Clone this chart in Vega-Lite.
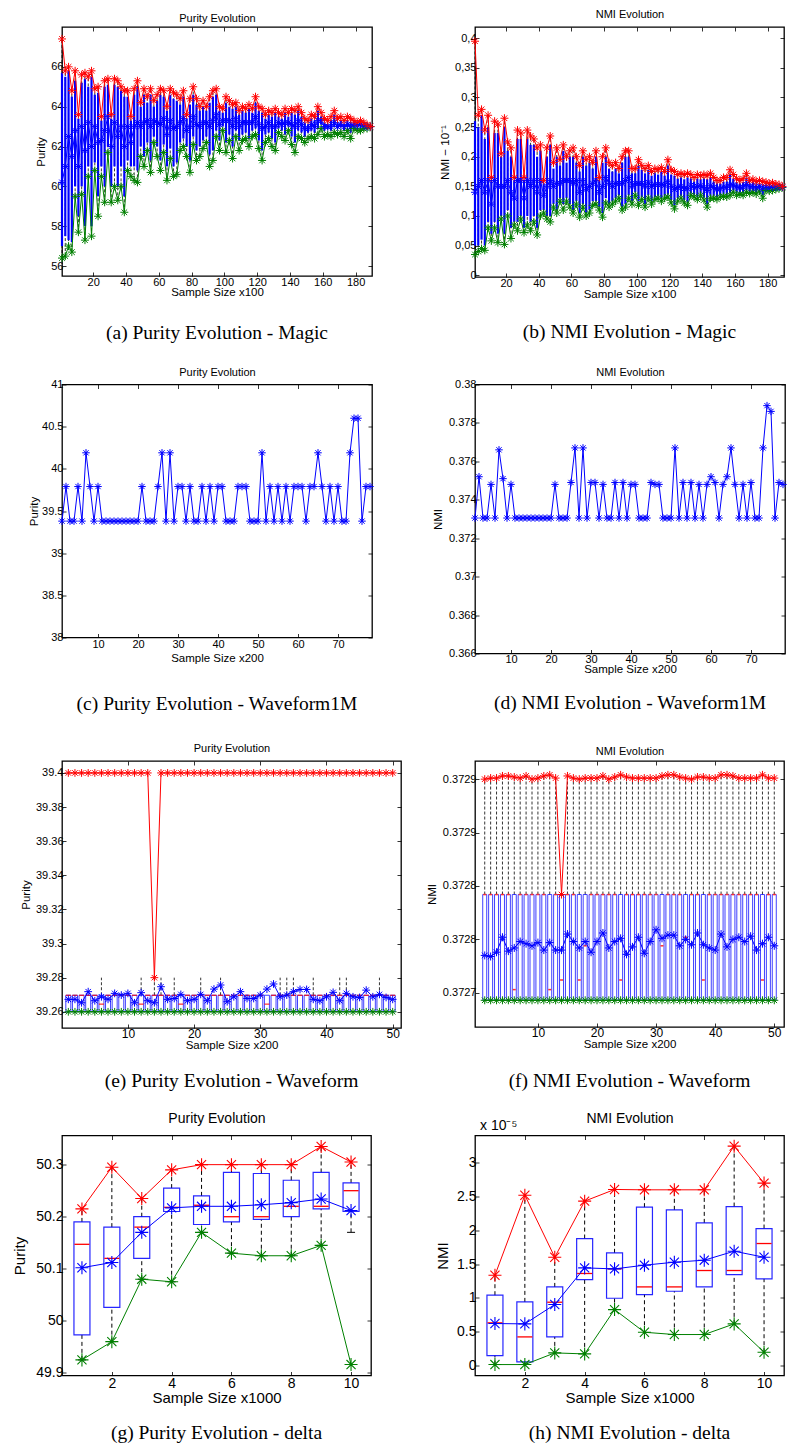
{
"$schema":"https://vega.github.io/schema/vega-lite/v6.json",
"background":"white",
"padding":{"left":12,"top":7,"right":2,"bottom":2},
"config":{
"view":{"stroke":"black","strokeWidth":1.3},
"axis":{"domain":false,"grid":false,"tickSize":-4,"tickColor":"black","tickWidth":0.8,"labelColor":"black","titleColor":"black","labelFont":"Liberation Sans","titleFont":"Liberation Sans","titleFontWeight":"normal","labelFontSize":11,"titleFontSize":11.5,"labelPadding":3,"labelFlush":false,"labelOverlap":false},
"title":{"orient":"bottom","font":"Liberation Serif","fontSize":19.5,"fontWeight":"normal","color":"black"}
},
"datasets":{
"a":[
{"x":1,"r":67.4,"g":56.4,"m":60.2,"l":57.0,"h":65.7},
{"x":3,"r":65.8,"g":56.5,"m":61.0,"l":57.5,"h":65.5},
{"x":5,"r":66.0,"g":57.0,"m":62.5,"l":57.3,"h":65.8},
{"x":7,"r":64.8,"g":56.7,"m":61.5,"l":57.2,"h":64.5},
{"x":9,"r":65.8,"g":59.5,"m":62.8,"l":60.0,"h":65.3},
{"x":11,"r":63.6,"g":57.7,"m":61.0,"l":58.5,"h":63.4},
{"x":13,"r":65.6,"g":59.6,"m":63.0,"l":60.0,"h":65.2},
{"x":15,"r":65.7,"g":57.3,"m":61.8,"l":58.0,"h":65.4},
{"x":17,"r":65.5,"g":60.5,"m":63.2,"l":61.0,"h":65.0},
{"x":19,"r":65.8,"g":57.5,"m":62.0,"l":58.0,"h":65.5},
{"x":21,"r":64.9,"g":60.8,"m":63.0,"l":61.2,"h":64.6},
{"x":23,"r":65.0,"g":58.5,"m":62.2,"l":59.5,"h":64.7},
{"x":25,"r":63.5,"g":60.5,"m":62.3,"l":61.0,"h":63.3},
{"x":27,"r":65.3,"g":59.2,"m":62.8,"l":60.0,"h":65.0},
{"x":29,"r":65.4,"g":61.7,"m":63.5,"l":62.0,"h":65.1},
{"x":31,"r":63.6,"g":59.2,"m":62.0,"l":60.0,"h":63.4},
{"x":33,"r":65.4,"g":60.0,"m":63.2,"l":61.0,"h":65.1},
{"x":35,"r":65.3,"g":59.3,"m":62.5,"l":60.0,"h":65.0},
{"x":37,"r":65.0,"g":60.0,"m":63.0,"l":61.0,"h":64.8},
{"x":39,"r":64.8,"g":58.7,"m":62.0,"l":59.5,"h":64.5},
{"x":41,"r":64.8,"g":60.8,"m":63.0,"l":61.3,"h":64.5},
{"x":43,"r":63.5,"g":60.5,"m":62.2,"l":61.0,"h":63.3},
{"x":45,"r":64.9,"g":60.3,"m":63.0,"l":61.0,"h":64.6},
{"x":47,"r":65.3,"g":60.2,"m":63.2,"l":60.8,"h":65.0},
{"x":49,"r":64.2,"g":61.5,"m":63.0,"l":62.0,"h":64.0},
{"x":51,"r":64.9,"g":61.0,"m":63.2,"l":61.5,"h":64.6},
{"x":53,"r":64.5,"g":61.8,"m":63.3,"l":62.2,"h":64.2},
{"x":55,"r":64.9,"g":60.7,"m":63.0,"l":61.3,"h":64.6},
{"x":57,"r":64.3,"g":62.2,"m":63.3,"l":62.5,"h":64.0},
{"x":59,"r":64.6,"g":61.5,"m":63.2,"l":62.0,"h":64.3},
{"x":61,"r":64.9,"g":60.8,"m":63.1,"l":61.3,"h":64.6},
{"x":63,"r":64.8,"g":61.7,"m":63.4,"l":62.1,"h":64.5},
{"x":65,"r":64.0,"g":60.3,"m":62.6,"l":61.0,"h":63.8},
{"x":67,"r":64.9,"g":61.4,"m":63.3,"l":61.9,"h":64.6},
{"x":69,"r":64.7,"g":60.5,"m":62.9,"l":61.0,"h":64.4},
{"x":71,"r":64.6,"g":60.6,"m":63.0,"l":61.2,"h":64.3},
{"x":73,"r":64.4,"g":61.8,"m":63.2,"l":62.2,"h":64.1},
{"x":75,"r":64.8,"g":62.0,"m":63.4,"l":62.4,"h":64.5},
{"x":77,"r":63.6,"g":61.5,"m":62.8,"l":62.0,"h":63.4},
{"x":79,"r":64.4,"g":60.7,"m":63.0,"l":61.3,"h":64.1},
{"x":81,"r":65.0,"g":62.1,"m":63.5,"l":62.5,"h":64.6},
{"x":83,"r":64.4,"g":61.3,"m":63.1,"l":61.8,"h":64.1},
{"x":85,"r":64.0,"g":61.5,"m":63.0,"l":62.0,"h":63.8},
{"x":87,"r":64.3,"g":61.9,"m":63.2,"l":62.3,"h":64.0},
{"x":89,"r":64.0,"g":62.2,"m":63.2,"l":62.5,"h":63.8},
{"x":91,"r":64.5,"g":61.0,"m":63.0,"l":61.6,"h":64.2},
{"x":93,"r":64.8,"g":61.3,"m":63.3,"l":61.8,"h":64.5},
{"x":95,"r":64.9,"g":62.5,"m":63.6,"l":62.8,"h":64.6},
{"x":97,"r":64.0,"g":61.8,"m":63.1,"l":62.3,"h":63.8},
{"x":99,"r":63.9,"g":62.8,"m":63.3,"l":63.0,"h":63.7},
{"x":101,"r":64.5,"g":61.7,"m":63.3,"l":62.2,"h":64.2},
{"x":103,"r":64.3,"g":62.3,"m":63.3,"l":62.6,"h":64.0},
{"x":105,"r":64.1,"g":61.4,"m":63.0,"l":62.0,"h":63.9},
{"x":107,"r":64.2,"g":62.5,"m":63.4,"l":62.8,"h":64.0},
{"x":109,"r":63.8,"g":61.8,"m":63.0,"l":62.3,"h":63.6},
{"x":111,"r":64.0,"g":62.3,"m":63.2,"l":62.6,"h":63.8},
{"x":113,"r":63.9,"g":62.4,"m":63.2,"l":62.7,"h":63.7},
{"x":115,"r":64.1,"g":62.0,"m":63.2,"l":62.4,"h":63.9},
{"x":117,"r":63.9,"g":62.5,"m":63.2,"l":62.8,"h":63.7},
{"x":119,"r":64.5,"g":62.6,"m":63.5,"l":62.9,"h":64.2},
{"x":121,"r":64.0,"g":61.9,"m":63.1,"l":62.3,"h":63.8},
{"x":123,"r":63.9,"g":61.3,"m":62.9,"l":61.8,"h":63.7},
{"x":125,"r":63.6,"g":62.2,"m":63.0,"l":62.6,"h":63.4},
{"x":127,"r":63.8,"g":62.4,"m":63.2,"l":62.7,"h":63.6},
{"x":129,"r":63.7,"g":62.0,"m":63.0,"l":62.4,"h":63.5},
{"x":131,"r":63.9,"g":61.8,"m":63.0,"l":62.2,"h":63.7},
{"x":133,"r":63.7,"g":62.7,"m":63.2,"l":62.9,"h":63.5},
{"x":135,"r":63.6,"g":62.5,"m":63.1,"l":62.8,"h":63.4},
{"x":137,"r":63.9,"g":62.3,"m":63.2,"l":62.6,"h":63.7},
{"x":139,"r":63.7,"g":62.8,"m":63.2,"l":63.0,"h":63.5},
{"x":141,"r":63.9,"g":62.1,"m":63.1,"l":62.5,"h":63.7},
{"x":143,"r":63.8,"g":61.7,"m":63.0,"l":62.2,"h":63.6},
{"x":145,"r":64.0,"g":62.5,"m":63.3,"l":62.8,"h":63.8},
{"x":147,"r":63.7,"g":62.4,"m":63.1,"l":62.7,"h":63.5},
{"x":149,"r":63.4,"g":62.2,"m":62.9,"l":62.5,"h":63.2},
{"x":151,"r":63.3,"g":62.4,"m":62.9,"l":62.7,"h":63.1},
{"x":153,"r":63.6,"g":62.5,"m":63.1,"l":62.8,"h":63.4},
{"x":155,"r":63.5,"g":62.4,"m":63.0,"l":62.7,"h":63.3},
{"x":157,"r":64.0,"g":62.6,"m":63.3,"l":62.9,"h":63.8},
{"x":159,"r":63.7,"g":62.9,"m":63.3,"l":63.1,"h":63.5},
{"x":161,"r":63.4,"g":62.5,"m":63.0,"l":62.8,"h":63.2},
{"x":163,"r":63.3,"g":62.6,"m":63.0,"l":62.9,"h":63.1},
{"x":165,"r":63.5,"g":62.5,"m":63.0,"l":62.8,"h":63.3},
{"x":167,"r":63.8,"g":62.7,"m":63.2,"l":63.0,"h":63.6},
{"x":169,"r":63.4,"g":62.6,"m":63.0,"l":62.9,"h":63.2},
{"x":171,"r":63.5,"g":62.7,"m":63.1,"l":63.0,"h":63.3},
{"x":173,"r":63.3,"g":62.5,"m":63.0,"l":62.8,"h":63.1},
{"x":175,"r":63.5,"g":62.8,"m":63.1,"l":63.0,"h":63.3},
{"x":177,"r":63.4,"g":62.4,"m":63.0,"l":62.7,"h":63.2},
{"x":179,"r":63.3,"g":62.9,"m":63.1,"l":63.0,"h":63.2},
{"x":181,"r":63.2,"g":62.8,"m":63.05,"l":63.0,"h":63.1},
{"x":183,"r":63.3,"g":62.8,"m":63.1,"l":63.0,"h":63.2},
{"x":185,"r":63.2,"g":62.9,"m":63.05,"l":63.0,"h":63.1},
{"x":187,"r":63.1,"g":62.9,"m":63.0,"l":62.95,"h":63.05},
{"x":189,"r":63.0,"g":63.0,"m":63.0,"l":63.0,"h":63.0}
],
"b":[
{"x":1,"r":0.395,"g":0.035,"m":0.14,"l":0.05,"h":0.26},
{"x":3,"r":0.27,"g":0.04,"m":0.15,"l":0.05,"h":0.25},
{"x":5,"r":0.28,"g":0.045,"m":0.16,"l":0.06,"h":0.27},
{"x":7,"r":0.245,"g":0.042,"m":0.14,"l":0.05,"h":0.23},
{"x":9,"r":0.27,"g":0.08,"m":0.16,"l":0.09,"h":0.25},
{"x":11,"r":0.165,"g":0.058,"m":0.12,"l":0.07,"h":0.16},
{"x":13,"r":0.26,"g":0.08,"m":0.16,"l":0.09,"h":0.24},
{"x":15,"r":0.255,"g":0.055,"m":0.15,"l":0.07,"h":0.24},
{"x":17,"r":0.205,"g":0.095,"m":0.15,"l":0.10,"h":0.20},
{"x":19,"r":0.265,"g":0.052,"m":0.15,"l":0.07,"h":0.25},
{"x":21,"r":0.225,"g":0.1,"m":0.16,"l":0.11,"h":0.21},
{"x":23,"r":0.215,"g":0.062,"m":0.14,"l":0.08,"h":0.20},
{"x":25,"r":0.165,"g":0.085,"m":0.13,"l":0.09,"h":0.16},
{"x":27,"r":0.245,"g":0.075,"m":0.16,"l":0.09,"h":0.23},
{"x":29,"r":0.24,"g":0.095,"m":0.16,"l":0.10,"h":0.23},
{"x":31,"r":0.165,"g":0.072,"m":0.13,"l":0.08,"h":0.16},
{"x":33,"r":0.245,"g":0.085,"m":0.16,"l":0.10,"h":0.23},
{"x":35,"r":0.235,"g":0.075,"m":0.15,"l":0.09,"h":0.22},
{"x":37,"r":0.23,"g":0.09,"m":0.16,"l":0.10,"h":0.22},
{"x":39,"r":0.215,"g":0.068,"m":0.14,"l":0.08,"h":0.20},
{"x":41,"r":0.22,"g":0.1,"m":0.16,"l":0.11,"h":0.21},
{"x":43,"r":0.16,"g":0.105,"m":0.135,"l":0.11,"h":0.155},
{"x":45,"r":0.215,"g":0.095,"m":0.15,"l":0.10,"h":0.20},
{"x":47,"r":0.235,"g":0.09,"m":0.16,"l":0.10,"h":0.22},
{"x":49,"r":0.19,"g":0.115,"m":0.15,"l":0.12,"h":0.18},
{"x":51,"r":0.215,"g":0.105,"m":0.155,"l":0.11,"h":0.20},
{"x":53,"r":0.195,"g":0.125,"m":0.155,"l":0.13,"h":0.185},
{"x":55,"r":0.22,"g":0.11,"m":0.16,"l":0.12,"h":0.21},
{"x":57,"r":0.2,"g":0.125,"m":0.16,"l":0.13,"h":0.19},
{"x":59,"r":0.21,"g":0.115,"m":0.16,"l":0.12,"h":0.20},
{"x":61,"r":0.215,"g":0.105,"m":0.155,"l":0.11,"h":0.20},
{"x":63,"r":0.2,"g":0.12,"m":0.16,"l":0.125,"h":0.19},
{"x":65,"r":0.185,"g":0.098,"m":0.14,"l":0.105,"h":0.175},
{"x":67,"r":0.21,"g":0.115,"m":0.16,"l":0.12,"h":0.20},
{"x":69,"r":0.195,"g":0.1,"m":0.145,"l":0.105,"h":0.185},
{"x":71,"r":0.2,"g":0.105,"m":0.15,"l":0.11,"h":0.19},
{"x":73,"r":0.19,"g":0.118,"m":0.155,"l":0.125,"h":0.18},
{"x":75,"r":0.21,"g":0.12,"m":0.16,"l":0.125,"h":0.20},
{"x":77,"r":0.165,"g":0.11,"m":0.14,"l":0.115,"h":0.16},
{"x":79,"r":0.2,"g":0.098,"m":0.15,"l":0.105,"h":0.19},
{"x":81,"r":0.215,"g":0.122,"m":0.165,"l":0.13,"h":0.20},
{"x":83,"r":0.19,"g":0.115,"m":0.155,"l":0.12,"h":0.18},
{"x":85,"r":0.185,"g":0.12,"m":0.15,"l":0.125,"h":0.175},
{"x":87,"r":0.19,"g":0.125,"m":0.155,"l":0.13,"h":0.18},
{"x":89,"r":0.18,"g":0.13,"m":0.155,"l":0.135,"h":0.172},
{"x":91,"r":0.2,"g":0.11,"m":0.155,"l":0.115,"h":0.19},
{"x":93,"r":0.21,"g":0.115,"m":0.16,"l":0.12,"h":0.20},
{"x":95,"r":0.21,"g":0.13,"m":0.165,"l":0.135,"h":0.20},
{"x":97,"r":0.18,"g":0.12,"m":0.15,"l":0.125,"h":0.172},
{"x":99,"r":0.18,"g":0.135,"m":0.155,"l":0.14,"h":0.172},
{"x":101,"r":0.195,"g":0.118,"m":0.155,"l":0.125,"h":0.185},
{"x":103,"r":0.185,"g":0.128,"m":0.155,"l":0.132,"h":0.178},
{"x":105,"r":0.18,"g":0.115,"m":0.15,"l":0.12,"h":0.172},
{"x":107,"r":0.185,"g":0.13,"m":0.157,"l":0.135,"h":0.178},
{"x":109,"r":0.175,"g":0.12,"m":0.15,"l":0.125,"h":0.168},
{"x":111,"r":0.18,"g":0.128,"m":0.153,"l":0.132,"h":0.172},
{"x":113,"r":0.178,"g":0.13,"m":0.153,"l":0.134,"h":0.17},
{"x":115,"r":0.182,"g":0.125,"m":0.153,"l":0.13,"h":0.175},
{"x":117,"r":0.175,"g":0.13,"m":0.152,"l":0.134,"h":0.168},
{"x":119,"r":0.195,"g":0.132,"m":0.158,"l":0.136,"h":0.185},
{"x":121,"r":0.178,"g":0.122,"m":0.15,"l":0.127,"h":0.17},
{"x":123,"r":0.175,"g":0.112,"m":0.145,"l":0.118,"h":0.168},
{"x":125,"r":0.17,"g":0.125,"m":0.148,"l":0.13,"h":0.163},
{"x":127,"r":0.172,"g":0.13,"m":0.15,"l":0.134,"h":0.165},
{"x":129,"r":0.17,"g":0.122,"m":0.146,"l":0.127,"h":0.162},
{"x":131,"r":0.172,"g":0.118,"m":0.146,"l":0.123,"h":0.165},
{"x":133,"r":0.17,"g":0.135,"m":0.152,"l":0.138,"h":0.163},
{"x":135,"r":0.165,"g":0.132,"m":0.148,"l":0.136,"h":0.158},
{"x":137,"r":0.17,"g":0.128,"m":0.15,"l":0.132,"h":0.163},
{"x":139,"r":0.168,"g":0.135,"m":0.151,"l":0.138,"h":0.162},
{"x":141,"r":0.17,"g":0.127,"m":0.148,"l":0.131,"h":0.163},
{"x":143,"r":0.168,"g":0.115,"m":0.143,"l":0.12,"h":0.162},
{"x":145,"r":0.172,"g":0.13,"m":0.151,"l":0.134,"h":0.165},
{"x":147,"r":0.165,"g":0.13,"m":0.148,"l":0.134,"h":0.158},
{"x":149,"r":0.16,"g":0.128,"m":0.145,"l":0.132,"h":0.155},
{"x":151,"r":0.16,"g":0.132,"m":0.146,"l":0.135,"h":0.155},
{"x":153,"r":0.165,"g":0.133,"m":0.149,"l":0.137,"h":0.158},
{"x":155,"r":0.165,"g":0.132,"m":0.148,"l":0.136,"h":0.158},
{"x":157,"r":0.178,"g":0.135,"m":0.153,"l":0.139,"h":0.17},
{"x":159,"r":0.17,"g":0.14,"m":0.152,"l":0.143,"h":0.163},
{"x":161,"r":0.163,"g":0.135,"m":0.149,"l":0.139,"h":0.157},
{"x":163,"r":0.16,"g":0.137,"m":0.148,"l":0.14,"h":0.155},
{"x":165,"r":0.163,"g":0.135,"m":0.149,"l":0.139,"h":0.157},
{"x":167,"r":0.172,"g":0.14,"m":0.153,"l":0.143,"h":0.165},
{"x":169,"r":0.16,"g":0.138,"m":0.149,"l":0.141,"h":0.155},
{"x":171,"r":0.162,"g":0.14,"m":0.15,"l":0.143,"h":0.157},
{"x":173,"r":0.158,"g":0.137,"m":0.147,"l":0.14,"h":0.153},
{"x":175,"r":0.16,"g":0.142,"m":0.15,"l":0.145,"h":0.155},
{"x":177,"r":0.158,"g":0.13,"m":0.145,"l":0.135,"h":0.153},
{"x":179,"r":0.157,"g":0.143,"m":0.149,"l":0.146,"h":0.152},
{"x":181,"r":0.155,"g":0.142,"m":0.148,"l":0.145,"h":0.151},
{"x":183,"r":0.156,"g":0.143,"m":0.149,"l":0.146,"h":0.152},
{"x":185,"r":0.154,"g":0.145,"m":0.149,"l":0.147,"h":0.151},
{"x":187,"r":0.153,"g":0.146,"m":0.149,"l":0.148,"h":0.151},
{"x":189,"r":0.15,"g":0.148,"m":0.149,"l":0.149,"h":0.15}
],
"cd":[
{"x":1,"p":39.38,"n":0.37305},{"x":2,"p":39.79,"n":0.3752},{"x":3,"p":39.38,"n":0.37305},{"x":4,"p":39.38,"n":0.37305},{"x":5,"p":39.79,"n":0.3748},
{"x":6,"p":39.38,"n":0.37305},{"x":7,"p":40.19,"n":0.3766},{"x":8,"p":39.79,"n":0.3751},{"x":9,"p":39.38,"n":0.37305},{"x":10,"p":39.79,"n":0.3748},
{"x":11,"p":39.38,"n":0.37305},{"x":12,"p":39.38,"n":0.37305},{"x":13,"p":39.38,"n":0.37305},{"x":14,"p":39.38,"n":0.37305},{"x":15,"p":39.38,"n":0.37305},
{"x":16,"p":39.38,"n":0.37305},{"x":17,"p":39.38,"n":0.37305},{"x":18,"p":39.38,"n":0.37305},{"x":19,"p":39.38,"n":0.37305},{"x":20,"p":39.38,"n":0.37305},
{"x":21,"p":39.79,"n":0.3748},{"x":22,"p":39.38,"n":0.37305},{"x":23,"p":39.38,"n":0.37305},{"x":24,"p":39.38,"n":0.37305},{"x":25,"p":39.79,"n":0.3749},
{"x":26,"p":40.19,"n":0.3767},{"x":27,"p":39.38,"n":0.37305},{"x":28,"p":40.19,"n":0.3767},{"x":29,"p":39.38,"n":0.37305},{"x":30,"p":39.79,"n":0.3749},
{"x":31,"p":39.79,"n":0.3749},{"x":32,"p":39.38,"n":0.37305},{"x":33,"p":39.79,"n":0.3748},{"x":34,"p":39.38,"n":0.37305},{"x":35,"p":39.38,"n":0.37305},
{"x":36,"p":39.79,"n":0.3749},{"x":37,"p":39.38,"n":0.37305},{"x":38,"p":39.79,"n":0.3749},{"x":39,"p":39.38,"n":0.37305},{"x":40,"p":39.79,"n":0.3748},
{"x":41,"p":39.79,"n":0.3748},{"x":42,"p":39.38,"n":0.37305},{"x":43,"p":39.38,"n":0.37305},{"x":44,"p":39.38,"n":0.37305},{"x":45,"p":39.79,"n":0.3749},
{"x":46,"p":39.79,"n":0.3748},{"x":47,"p":39.79,"n":0.3748},{"x":48,"p":39.38,"n":0.37305},{"x":49,"p":39.38,"n":0.37305},{"x":50,"p":39.38,"n":0.37305},
{"x":51,"p":40.19,"n":0.3767},{"x":52,"p":39.38,"n":0.37305},{"x":53,"p":39.79,"n":0.3749},{"x":54,"p":39.38,"n":0.37305},{"x":55,"p":39.79,"n":0.3749},
{"x":56,"p":39.38,"n":0.37305},{"x":57,"p":39.79,"n":0.3748},{"x":58,"p":39.38,"n":0.37305},{"x":59,"p":39.79,"n":0.3748},{"x":60,"p":39.79,"n":0.3752},
{"x":61,"p":39.79,"n":0.3749},{"x":62,"p":39.38,"n":0.37305},{"x":63,"p":39.79,"n":0.3748},{"x":64,"p":39.79,"n":0.3752},{"x":65,"p":40.19,"n":0.3767},
{"x":66,"p":39.79,"n":0.3748},{"x":67,"p":39.38,"n":0.37305},{"x":68,"p":39.79,"n":0.3748},{"x":69,"p":39.38,"n":0.37305},{"x":70,"p":39.79,"n":0.3749},
{"x":71,"p":39.38,"n":0.37305},{"x":72,"p":39.38,"n":0.37305},{"x":73,"p":40.19,"n":0.3767},{"x":74,"p":40.6,"n":0.3789},{"x":75,"p":40.6,"n":0.3786},
{"x":76,"p":39.38,"n":0.37305},{"x":77,"p":39.79,"n":0.3749},{"x":78,"p":39.79,"n":0.3748}
],
"e":[
{"x":1,"r":39.4,"g":39.26,"m":39.2673,"h":39.2697,"md":39.2697,"wh":39.2697},
{"x":2,"r":39.4,"g":39.26,"m":39.2673,"h":39.2697,"md":39.2697,"wh":39.2697},
{"x":3,"r":39.4,"g":39.26,"m":39.2653,"h":39.2697,"md":39.2697,"wh":39.2697},
{"x":4,"r":39.4,"g":39.26,"m":39.2718,"h":39.2697,"md":39.2697,"wh":39.2697},
{"x":5,"r":39.4,"g":39.26,"m":39.2665,"h":39.2697,"md":39.2697,"wh":39.2697},
{"x":6,"r":39.4,"g":39.26,"m":39.2688,"h":39.2697,"md":39.2645,"wh":39.28},
{"x":7,"r":39.4,"g":39.26,"m":39.2673,"h":39.2697,"md":39.2697,"wh":39.2697},
{"x":8,"r":39.4,"g":39.26,"m":39.2708,"h":39.2697,"md":39.2697,"wh":39.2697},
{"x":9,"r":39.4,"g":39.26,"m":39.2698,"h":39.2697,"md":39.2697,"wh":39.2697},
{"x":10,"r":39.4,"g":39.26,"m":39.2708,"h":39.2697,"md":39.2697,"wh":39.2697},
{"x":11,"r":39.4,"g":39.26,"m":39.2653,"h":39.2697,"md":39.2697,"wh":39.2697},
{"x":12,"r":39.4,"g":39.26,"m":39.2712,"h":39.2697,"md":39.2645,"wh":39.28},
{"x":13,"r":39.4,"g":39.26,"m":39.2665,"h":39.2697,"md":39.2697,"wh":39.2697},
{"x":14,"r":39.28,"g":39.26,"m":39.2653,"h":39.2697,"md":39.2697,"wh":39.28},
{"x":15,"r":39.4,"g":39.26,"m":39.2747,"h":39.2697,"md":39.2697,"wh":39.28},
{"x":16,"r":39.4,"g":39.26,"m":39.2673,"h":39.2697,"md":39.2697,"wh":39.2697},
{"x":17,"r":39.4,"g":39.26,"m":39.2678,"h":39.2697,"md":39.2697,"wh":39.28},
{"x":18,"r":39.4,"g":39.26,"m":39.2702,"h":39.2697,"md":39.2645,"wh":39.2697},
{"x":19,"r":39.4,"g":39.26,"m":39.2665,"h":39.2697,"md":39.2697,"wh":39.2697},
{"x":20,"r":39.4,"g":39.26,"m":39.2673,"h":39.2697,"md":39.2697,"wh":39.2697},
{"x":21,"r":39.4,"g":39.26,"m":39.2702,"h":39.2697,"md":39.2697,"wh":39.28},
{"x":22,"r":39.4,"g":39.26,"m":39.2665,"h":39.2697,"md":39.2697,"wh":39.2697},
{"x":23,"r":39.4,"g":39.26,"m":39.2733,"h":39.2697,"md":39.2697,"wh":39.2697},
{"x":24,"r":39.4,"g":39.26,"m":39.2757,"h":39.2697,"md":39.2697,"wh":39.28},
{"x":25,"r":39.4,"g":39.26,"m":39.2659,"h":39.2697,"md":39.2697,"wh":39.2697},
{"x":26,"r":39.4,"g":39.26,"m":39.2688,"h":39.2697,"md":39.2697,"wh":39.2697},
{"x":27,"r":39.4,"g":39.26,"m":39.2718,"h":39.2697,"md":39.2697,"wh":39.2697},
{"x":28,"r":39.4,"g":39.26,"m":39.2678,"h":39.2697,"md":39.2697,"wh":39.2697},
{"x":29,"r":39.4,"g":39.26,"m":39.2678,"h":39.2697,"md":39.2697,"wh":39.2697},
{"x":30,"r":39.4,"g":39.26,"m":39.2698,"h":39.2697,"md":39.2697,"wh":39.2697},
{"x":31,"r":39.4,"g":39.26,"m":39.2733,"h":39.2697,"md":39.2645,"wh":39.2697},
{"x":32,"r":39.4,"g":39.26,"m":39.2763,"h":39.2697,"md":39.2697,"wh":39.2697},
{"x":33,"r":39.4,"g":39.26,"m":39.2688,"h":39.2697,"md":39.2697,"wh":39.28},
{"x":34,"r":39.4,"g":39.26,"m":39.2698,"h":39.2697,"md":39.2697,"wh":39.28},
{"x":35,"r":39.4,"g":39.26,"m":39.2718,"h":39.2697,"md":39.2697,"wh":39.28},
{"x":36,"r":39.4,"g":39.26,"m":39.2731,"h":39.2697,"md":39.2697,"wh":39.2697},
{"x":37,"r":39.4,"g":39.26,"m":39.2731,"h":39.2697,"md":39.2697,"wh":39.2697},
{"x":38,"r":39.4,"g":39.26,"m":39.2673,"h":39.2697,"md":39.2697,"wh":39.28},
{"x":39,"r":39.4,"g":39.26,"m":39.2665,"h":39.2697,"md":39.2697,"wh":39.2697},
{"x":40,"r":39.4,"g":39.26,"m":39.2688,"h":39.2697,"md":39.2697,"wh":39.2697},
{"x":41,"r":39.4,"g":39.26,"m":39.2714,"h":39.2697,"md":39.2697,"wh":39.2697},
{"x":42,"r":39.4,"g":39.26,"m":39.2665,"h":39.2697,"md":39.2697,"wh":39.28},
{"x":43,"r":39.4,"g":39.26,"m":39.2708,"h":39.2697,"md":39.2697,"wh":39.28},
{"x":44,"r":39.4,"g":39.26,"m":39.2688,"h":39.2697,"md":39.2697,"wh":39.2697},
{"x":45,"r":39.4,"g":39.26,"m":39.2684,"h":39.2697,"md":39.2697,"wh":39.2697},
{"x":46,"r":39.4,"g":39.26,"m":39.2727,"h":39.2697,"md":39.2697,"wh":39.2697},
{"x":47,"r":39.4,"g":39.26,"m":39.2688,"h":39.2697,"md":39.2697,"wh":39.2697},
{"x":48,"r":39.4,"g":39.26,"m":39.2702,"h":39.2697,"md":39.2697,"wh":39.28},
{"x":49,"r":39.4,"g":39.26,"m":39.2684,"h":39.2697,"md":39.2697,"wh":39.2697},
{"x":50,"r":39.4,"g":39.26,"m":39.2673,"h":39.2697,"md":39.2697,"wh":39.2697}
],
"f":[
{"x":1,"r":0.3729,"g":0.372693,"m":0.372735,"h":0.372792,"md":0.372792},
{"x":2,"r":0.372901,"g":0.372693,"m":0.372734,"h":0.372792,"md":0.372792},
{"x":3,"r":0.372901,"g":0.372693,"m":0.372738,"h":0.372792,"md":0.372792},
{"x":4,"r":0.372903,"g":0.372693,"m":0.372752,"h":0.372792,"md":0.372792},
{"x":5,"r":0.372903,"g":0.372693,"m":0.372739,"h":0.372792,"md":0.372792},
{"x":6,"r":0.372902,"g":0.372693,"m":0.372742,"h":0.372792,"md":0.372703},
{"x":7,"r":0.372901,"g":0.372693,"m":0.372748,"h":0.372792,"md":0.372792},
{"x":8,"r":0.372903,"g":0.372693,"m":0.372746,"h":0.372792,"md":0.372792},
{"x":9,"r":0.3729,"g":0.372693,"m":0.372744,"h":0.372792,"md":0.372792},
{"x":10,"r":0.372901,"g":0.372693,"m":0.372747,"h":0.372792,"md":0.372792},
{"x":11,"r":0.372903,"g":0.372693,"m":0.37274,"h":0.372792,"md":0.372792},
{"x":12,"r":0.372904,"g":0.372693,"m":0.372747,"h":0.372792,"md":0.372703},
{"x":13,"r":0.372901,"g":0.372693,"m":0.37274,"h":0.372792,"md":0.372792},
{"x":14,"r":0.372792,"g":0.372693,"m":0.37274,"h":0.372792,"md":0.372712},
{"x":15,"r":0.372903,"g":0.372693,"m":0.372755,"h":0.372792,"md":0.372792},
{"x":16,"r":0.372901,"g":0.372693,"m":0.372748,"h":0.372792,"md":0.372792},
{"x":17,"r":0.3729,"g":0.372693,"m":0.372742,"h":0.372792,"md":0.372712},
{"x":18,"r":0.372901,"g":0.372693,"m":0.372748,"h":0.372792,"md":0.372744},
{"x":19,"r":0.372901,"g":0.372693,"m":0.372738,"h":0.372792,"md":0.372792},
{"x":20,"r":0.372901,"g":0.372693,"m":0.372748,"h":0.372792,"md":0.372792},
{"x":21,"r":0.372903,"g":0.372693,"m":0.372756,"h":0.372792,"md":0.372792},
{"x":22,"r":0.3729,"g":0.372693,"m":0.372742,"h":0.372792,"md":0.372792},
{"x":23,"r":0.372902,"g":0.372693,"m":0.372748,"h":0.372792,"md":0.372792},
{"x":24,"r":0.372904,"g":0.372693,"m":0.372751,"h":0.372792,"md":0.372712},
{"x":25,"r":0.372902,"g":0.372693,"m":0.372736,"h":0.372792,"md":0.372792},
{"x":26,"r":0.372901,"g":0.372693,"m":0.372743,"h":0.372792,"md":0.372792},
{"x":27,"r":0.372901,"g":0.372693,"m":0.372752,"h":0.372792,"md":0.372792},
{"x":28,"r":0.372901,"g":0.372693,"m":0.372737,"h":0.372792,"md":0.372792},
{"x":29,"r":0.372901,"g":0.372693,"m":0.372748,"h":0.372792,"md":0.372792},
{"x":30,"r":0.372901,"g":0.372693,"m":0.372759,"h":0.372792,"md":0.372792},
{"x":31,"r":0.372903,"g":0.372693,"m":0.372751,"h":0.372792,"md":0.372744},
{"x":32,"r":0.372904,"g":0.372693,"m":0.372754,"h":0.372792,"md":0.372792},
{"x":33,"r":0.372904,"g":0.372693,"m":0.372754,"h":0.372792,"md":0.372792},
{"x":34,"r":0.372902,"g":0.372693,"m":0.372744,"h":0.372792,"md":0.372792},
{"x":35,"r":0.372901,"g":0.372693,"m":0.37275,"h":0.372792,"md":0.372752},
{"x":36,"r":0.3729,"g":0.372693,"m":0.372745,"h":0.372792,"md":0.372792},
{"x":37,"r":0.372902,"g":0.372693,"m":0.372756,"h":0.372792,"md":0.372792},
{"x":38,"r":0.372902,"g":0.372693,"m":0.372745,"h":0.372792,"md":0.372712},
{"x":39,"r":0.372901,"g":0.372693,"m":0.372742,"h":0.372792,"md":0.372792},
{"x":40,"r":0.372901,"g":0.372693,"m":0.37274,"h":0.372792,"md":0.372792},
{"x":41,"r":0.372904,"g":0.372693,"m":0.372755,"h":0.372792,"md":0.372792},
{"x":42,"r":0.372904,"g":0.372693,"m":0.372743,"h":0.372792,"md":0.372792},
{"x":43,"r":0.372903,"g":0.372693,"m":0.37275,"h":0.372792,"md":0.372792},
{"x":44,"r":0.372901,"g":0.372693,"m":0.372752,"h":0.372792,"md":0.372792},
{"x":45,"r":0.372901,"g":0.372693,"m":0.372748,"h":0.372792,"md":0.372792},
{"x":46,"r":0.372901,"g":0.372693,"m":0.372753,"h":0.372792,"md":0.372792},
{"x":47,"r":0.372901,"g":0.372693,"m":0.37274,"h":0.372792,"md":0.372792},
{"x":48,"r":0.372904,"g":0.372693,"m":0.372746,"h":0.372792,"md":0.372712},
{"x":49,"r":0.372901,"g":0.372693,"m":0.372752,"h":0.372792,"md":0.372792},
{"x":50,"r":0.372901,"g":0.372693,"m":0.372744,"h":0.372792,"md":0.372792}
],
"g":[
{"x":1,"r":50.215,"g":49.925,"m":50.102,"l":49.973,"h":50.19,"md":50.147,"wl":49.925,"wh":50.215},
{"x":2,"r":50.295,"g":49.96,"m":50.112,"l":50.026,"h":50.18,"md":50.12,"wl":49.96,"wh":50.295},
{"x":3,"r":50.235,"g":50.08,"m":50.17,"l":50.12,"h":50.2,"md":50.18,"wl":50.08,"wh":50.235},
{"x":4,"r":50.29,"g":50.075,"m":50.217,"l":50.21,"h":50.255,"md":50.218,"wl":50.075,"wh":50.29},
{"x":5,"r":50.3,"g":50.17,"m":50.22,"l":50.185,"h":50.24,"md":50.222,"wl":50.17,"wh":50.3},
{"x":6,"r":50.3,"g":50.13,"m":50.22,"l":50.19,"h":50.285,"md":50.2,"wl":50.13,"wh":50.3},
{"x":7,"r":50.3,"g":50.125,"m":50.223,"l":50.195,"h":50.283,"md":50.2,"wl":50.125,"wh":50.3},
{"x":8,"r":50.3,"g":50.125,"m":50.227,"l":50.2,"h":50.27,"md":50.22,"wl":50.125,"wh":50.3},
{"x":9,"r":50.335,"g":50.145,"m":50.234,"l":50.215,"h":50.285,"md":50.22,"wl":50.145,"wh":50.335},
{"x":10,"r":50.305,"g":49.916,"m":50.212,"l":50.21,"h":50.265,"md":50.25,"wl":50.17,"wh":50.305}
],
"h":[
{"x":1,"r":1.334,"g":0.01,"m":0.618,"l":0.143,"h":1.038,"md":0.628,"wl":0.01,"wh":1.334},
{"x":2,"r":2.52,"g":0.01,"m":0.613,"l":0.049,"h":0.939,"md":0.42,"wl":0.01,"wh":2.52},
{"x":3,"r":1.601,"g":0.183,"m":0.9,"l":0.42,"h":1.161,"md":0.934,"wl":0.183,"wh":1.601},
{"x":4,"r":2.432,"g":0.168,"m":1.443,"l":1.27,"h":1.878,"md":1.36,"wl":0.168,"wh":2.432},
{"x":5,"r":2.605,"g":0.825,"m":1.428,"l":0.993,"h":1.666,"md":1.43,"wl":0.825,"wh":2.605},
{"x":6,"r":2.6,"g":0.489,"m":1.483,"l":1.048,"h":2.343,"md":1.161,"wl":0.489,"wh":2.6},
{"x":7,"r":2.6,"g":0.455,"m":1.527,"l":1.097,"h":2.303,"md":1.161,"wl":0.455,"wh":2.6},
{"x":8,"r":2.6,"g":0.455,"m":1.557,"l":1.161,"h":2.11,"md":1.404,"wl":0.455,"wh":2.6},
{"x":9,"r":3.247,"g":0.613,"m":1.69,"l":1.344,"h":2.352,"md":1.404,"wl":0.613,"wh":3.247},
{"x":10,"r":2.699,"g":0.193,"m":1.601,"l":1.28,"h":2.026,"md":1.804,"wl":0.193,"wh":2.699}
],
"hnote":[{"x":0.5,"y":3.405,"t":"x 10⁻⁵"}]
},
"columns":2,
"bounds":"flush",
"align":"each",
"spacing":{"row":107.5,"column":74},
"resolve":{"scale":{"x":"independent","y":"independent"}},
"concat":[
{
"width":310,"height":249,
"title":{"text":"(a)  Purity Evolution - Magic","offset":26},
"data":{"name":"a"},
"encoding":{"x":{"field":"x","type":"quantitative","scale":{"domain":[1,190],"nice":false,"zero":false},"axis":null}},
"layer":[
{"mark":{"type":"rule","color":"black","strokeDash":[3,2],"strokeWidth":0.8},
"encoding":{"x":{"field":"x","type":"quantitative","scale":{"domain":[1,190],"nice":false,"zero":false},"axis":{"values":[20,40,60,80,100,120,140,160,180],"format":"d","title":"Sample Size x100","titlePadding":-1,"labelPadding":4}},
"y":{"field":"g","type":"quantitative","scale":{"domain":[55.5,68],"nice":false,"zero":false},"axis":{"values":[56,58,60,62,64,66],"format":"~g","title":"Purity","titlePadding":4}},
"y2":{"field":"r"}}},
{"mark":{"type":"rule","color":"#0000ff","strokeWidth":2.2},
"encoding":{"x":{"field":"x","type":"quantitative","scale":{"domain":[1,190],"nice":false,"zero":false},"axis":{"orient":"top","values":[20,40,60,80,100,120,140,160,180],"labels":false,"title":"Purity Evolution","titleFontSize":11,"titlePadding":4,"minExtent":0,"maxExtent":0}},
"y":{"field":"l","type":"quantitative","scale":{"domain":[55.5,68],"nice":false,"zero":false},"axis":{"orient":"right","values":[56,58,60,62,64,66],"labels":false,"title":null,"minExtent":0,"maxExtent":0}},
"y2":{"field":"h"}}},
{"transform":[{"fold":["g","m","r"],"as":["s","v"]}],"mark":{"type":"line","strokeWidth":1},
"encoding":{"y":{"field":"v","type":"quantitative","scale":{"domain":[55.5,68],"nice":false,"zero":false},"axis":null},"color":{"field":"s","type":"nominal","scale":{"domain":["g","m","r"],"range":["#008000","#0000ff","#ff0000"]},"legend":null}}},
{"transform":[{"fold":["g","m","r"],"as":["s","v"]}],"mark":{"type":"point","shape":"M-1,0L1,0M0,-1L0,1M-0.7,-0.7L0.7,0.7M-0.7,0.7L0.7,-0.7","filled":false,"size":64,"strokeWidth":1,"opacity":1},
"encoding":{"y":{"field":"v","type":"quantitative","scale":{"domain":[55.5,68],"nice":false,"zero":false},"axis":null},"color":{"field":"s","type":"nominal","scale":{"domain":["g","m","r"],"range":["#008000","#0000ff","#ff0000"]},"legend":null}}}
],
"resolve":{"axis":{"x":"independent","y":"independent"}}
},
{
"width":309,"height":250,
"title":{"text":"(b)  NMI Evolution - Magic","offset":23},
"data":{"name":"b"},
"encoding":{"x":{"field":"x","type":"quantitative","scale":{"domain":[1,190],"nice":false,"zero":false},"axis":null}},
"layer":[
{"mark":{"type":"rule","color":"black","strokeDash":[3,2],"strokeWidth":0.8},
"encoding":{"x":{"field":"x","type":"quantitative","scale":{"domain":[1,190],"nice":false,"zero":false},"axis":{"values":[20,40,60,80,100,120,140,160,180],"format":"d","title":"Sample Size x100","titlePadding":0,"labelPadding":4}},
"y":{"field":"g","type":"quantitative","scale":{"domain":[-0.003,0.419],"nice":false,"zero":false},"axis":{"values":[0,0.05,0.1,0.15,0.2,0.25,0.3,0.35,0.4],"labelExpr":"replace(format(datum.value,'~g'),'.',',')","title":"NMI − 10⁻¹","titlePadding":4}},
"y2":{"field":"r"}}},
{"mark":{"type":"rule","color":"#0000ff","strokeWidth":2.2},
"encoding":{"x":{"field":"x","type":"quantitative","scale":{"domain":[1,190],"nice":false,"zero":false},"axis":{"orient":"top","values":[20,40,60,80,100,120,140,160,180],"labels":false,"title":"NMI Evolution","titleFontSize":11,"titlePadding":8,"minExtent":0,"maxExtent":0}},
"y":{"field":"l","type":"quantitative","scale":{"domain":[-0.003,0.419],"nice":false,"zero":false},"axis":{"orient":"right","values":[0,0.05,0.1,0.15,0.2,0.25,0.3,0.35,0.4],"labels":false,"title":null,"minExtent":0,"maxExtent":0}},
"y2":{"field":"h"}}},
{"transform":[{"fold":["g","m","r"],"as":["s","v"]}],"mark":{"type":"line","strokeWidth":1},
"encoding":{"y":{"field":"v","type":"quantitative","scale":{"domain":[-0.003,0.419],"nice":false,"zero":false},"axis":null},"color":{"field":"s","type":"nominal","scale":{"domain":["g","m","r"],"range":["#008000","#0000ff","#ff0000"]},"legend":null}}},
{"transform":[{"fold":["g","m","r"],"as":["s","v"]}],"mark":{"type":"point","shape":"M-1,0L1,0M0,-1L0,1M-0.7,-0.7L0.7,0.7M-0.7,0.7L0.7,-0.7","filled":false,"size":64,"strokeWidth":1,"opacity":1},
"encoding":{"y":{"field":"v","type":"quantitative","scale":{"domain":[-0.003,0.419],"nice":false,"zero":false},"axis":null},"color":{"field":"s","type":"nominal","scale":{"domain":["g","m","r"],"range":["#008000","#0000ff","#ff0000"]},"legend":null}}}
],
"resolve":{"axis":{"x":"independent","y":"independent"}}
},
{
"width":310,"height":253,
"title":{"text":"(c)  Purity Evolution - Waveform1M","offset":31},
"data":{"name":"cd"},
"encoding":{"x":{"field":"x","type":"quantitative","scale":{"domain":[1,78.5],"nice":false,"zero":false},"axis":null}},
"layer":[
{"mark":{"type":"line","color":"#0000ff","strokeWidth":1},
"encoding":{"x":{"field":"x","type":"quantitative","scale":{"domain":[1,78.5],"nice":false,"zero":false},"axis":{"values":[10,20,30,40,50,60,70],"format":"d","title":"Sample Size x200","titlePadding":3,"labelPadding":5}},
"y":{"field":"p","type":"quantitative","scale":{"domain":[38,41],"nice":false,"zero":false},"axis":{"values":[38,38.5,39,39.5,40,40.5,41],"format":"~g","title":"Purity","titlePadding":2}}}},
{"mark":{"type":"point","shape":"M-1,0L1,0M0,-1L0,1M-0.7,-0.7L0.7,0.7M-0.7,0.7L0.7,-0.7","filled":false,"color":"#0000ff","size":56,"strokeWidth":1,"opacity":1},
"encoding":{"x":{"field":"x","type":"quantitative","scale":{"domain":[1,78.5],"nice":false,"zero":false},"axis":{"orient":"top","values":[10,20,30,40,50,60,70],"labels":false,"title":"Purity Evolution","titleFontSize":11,"titlePadding":7,"minExtent":0,"maxExtent":0}},
"y":{"field":"p","type":"quantitative","scale":{"domain":[38,41],"nice":false,"zero":false},"axis":{"orient":"right","values":[38,38.5,39,39.5,40,40.5,41],"labels":false,"title":null,"minExtent":0,"maxExtent":0}}}}
],
"resolve":{"axis":{"x":"independent","y":"independent"}}
},
{
"width":310,"height":269,
"title":{"text":"(d)  NMI Evolution - Waveform1M","offset":19},
"data":{"name":"cd"},
"encoding":{"x":{"field":"x","type":"quantitative","scale":{"domain":[1,78.5],"nice":false,"zero":false},"axis":null}},
"layer":[
{"mark":{"type":"line","color":"#0000ff","strokeWidth":1},
"encoding":{"x":{"field":"x","type":"quantitative","scale":{"domain":[1,78.5],"nice":false,"zero":false},"axis":{"values":[10,20,30,40,50,60,70],"format":"d","title":"Sample Size x200","titlePadding":-1,"labelPadding":4}},
"y":{"field":"n","type":"quantitative","scale":{"domain":[0.366,0.38],"nice":false,"zero":false},"axis":{"values":[0.366,0.368,0.37,0.372,0.374,0.376,0.378,0.38],"format":"~g","title":"NMI","titlePadding":5}}}},
{"mark":{"type":"point","shape":"M-1,0L1,0M0,-1L0,1M-0.7,-0.7L0.7,0.7M-0.7,0.7L0.7,-0.7","filled":false,"color":"#0000ff","size":56,"strokeWidth":1,"opacity":1},
"encoding":{"x":{"field":"x","type":"quantitative","scale":{"domain":[1,78.5],"nice":false,"zero":false},"axis":{"orient":"top","values":[10,20,30,40,50,60,70],"labels":false,"title":"NMI Evolution","titleFontSize":11,"titlePadding":7,"minExtent":0,"maxExtent":0}},
"y":{"field":"n","type":"quantitative","scale":{"domain":[0.366,0.38],"nice":false,"zero":false},"axis":{"orient":"right","values":[0.366,0.368,0.37,0.372,0.374,0.376,0.378,0.38],"labels":false,"title":null,"minExtent":0,"maxExtent":0}}}}
],
"resolve":{"axis":{"x":"independent","y":"independent"}}
},
{
"width":339,"height":267,
"title":{"text":"(e)  Purity Evolution - Waveform","offset":21},
"data":{"name":"e"},
"encoding":{"x":{"field":"x","type":"quantitative","scale":{"domain":[0.8,50.5],"nice":false,"zero":false},"axis":null}},
"layer":[
{"mark":{"type":"rule","color":"black","strokeDash":[3,2],"strokeWidth":0.8},
"encoding":{"x":{"field":"x","type":"quantitative","scale":{"domain":[0.8,50.5],"nice":false,"zero":false},"axis":{"values":[10,20,30,40,50],"format":"d","title":"Sample Size x200","titlePadding":0,"labelPadding":4,"labelFontSize":12}},
"y":{"field":"h","type":"quantitative","scale":{"domain":[39.2505,39.407],"nice":false,"zero":false},"axis":{"values":[39.26,39.28,39.3,39.32,39.34,39.36,39.38,39.4],"format":"~g","title":"Purity","titlePadding":4}},
"y2":{"field":"wh"}}},
{"mark":{"type":"bar","size":5,"fill":"#0000ff","fillOpacity":0,"stroke":"#0000ff","strokeWidth":1,"strokeOpacity":0.75},
"encoding":{"x":{"field":"x","type":"quantitative","scale":{"domain":[0.8,50.5],"nice":false,"zero":false},"axis":{"orient":"top","values":[10,20,30,40,50],"labels":false,"title":"Purity Evolution","titleFontSize":11,"titlePadding":8,"minExtent":0,"maxExtent":0}},
"y":{"field":"g","type":"quantitative","scale":{"domain":[39.2505,39.407],"nice":false,"zero":false},"axis":{"orient":"right","values":[39.26,39.28,39.3,39.32,39.34,39.36,39.38,39.4],"labels":false,"title":null,"minExtent":0,"maxExtent":0}},
"y2":{"field":"h"}}},
{"mark":{"type":"tick","orient":"horizontal","size":5,"thickness":1,"color":"#ff0000","opacity":1},
"encoding":{"y":{"field":"md","type":"quantitative","scale":{"domain":[39.2505,39.407],"nice":false,"zero":false},"axis":null}}},
{"transform":[{"fold":["g","m","r"],"as":["s","v"]}],"mark":{"type":"line","strokeWidth":1},
"encoding":{"y":{"field":"v","type":"quantitative","scale":{"domain":[39.2505,39.407],"nice":false,"zero":false},"axis":null},"color":{"field":"s","type":"nominal","scale":{"domain":["g","m","r"],"range":["#008000","#0000ff","#ff0000"]},"legend":null}}},
{"transform":[{"fold":["g","m","r"],"as":["s","v"]}],"mark":{"type":"point","shape":"M-1,0L1,0M0,-1L0,1M-0.7,-0.7L0.7,0.7M-0.7,0.7L0.7,-0.7","filled":false,"size":60,"strokeWidth":1,"opacity":1},
"encoding":{"y":{"field":"v","type":"quantitative","scale":{"domain":[39.2505,39.407],"nice":false,"zero":false},"axis":null},"color":{"field":"s","type":"nominal","scale":{"domain":["g","m","r"],"range":["#008000","#0000ff","#ff0000"]},"legend":null}}}
],
"resolve":{"axis":{"x":"independent","y":"independent"}}
},
{
"width":309,"height":266,
"title":{"text":"(f)  NMI Evolution - Waveform","offset":22},
"data":{"name":"f"},
"encoding":{"x":{"field":"x","type":"quantitative","scale":{"domain":[0.2,50.8],"nice":false,"zero":false},"axis":null}},
"layer":[
{"mark":{"type":"rule","color":"black","strokeDash":[3,2],"strokeWidth":0.8},
"encoding":{"x":{"field":"x","type":"quantitative","scale":{"domain":[0.2,50.8],"nice":false,"zero":false},"axis":{"values":[10,20,30,40,50],"format":"d","title":"Sample Size x200","titlePadding":0,"labelPadding":4,"labelFontSize":12}},
"y":{"field":"h","type":"quantitative","scale":{"domain":[0.372668,0.372917],"nice":false,"zero":false},"axis":{"values":[0.3727,0.37275,0.3728,0.37285,0.3729],"labelExpr":"format(datum.value+1e-9,'.4f')","title":"NMI","titlePadding":5}},
"y2":{"field":"r"}}},
{"mark":{"type":"bar","size":4,"fill":"#0000ff","fillOpacity":0,"stroke":"#0000ff","strokeWidth":1,"strokeOpacity":0.75},
"encoding":{"x":{"field":"x","type":"quantitative","scale":{"domain":[0.2,50.8],"nice":false,"zero":false},"axis":{"orient":"top","values":[10,20,30,40,50],"labels":false,"title":"NMI Evolution","titleFontSize":11,"titlePadding":5,"minExtent":0,"maxExtent":0}},
"y":{"field":"g","type":"quantitative","scale":{"domain":[0.372668,0.372917],"nice":false,"zero":false},"axis":{"orient":"right","values":[0.3727,0.37275,0.3728,0.37285,0.3729],"labels":false,"title":null,"minExtent":0,"maxExtent":0}},
"y2":{"field":"h"}}},
{"mark":{"type":"tick","orient":"horizontal","size":3,"thickness":1.5,"color":"#ff3030","opacity":1},
"encoding":{"y":{"field":"md","type":"quantitative","scale":{"domain":[0.372668,0.372917],"nice":false,"zero":false},"axis":null}}},
{"transform":[{"fold":["g","m","r"],"as":["s","v"]}],"mark":{"type":"line","strokeWidth":1},
"encoding":{"y":{"field":"v","type":"quantitative","scale":{"domain":[0.372668,0.372917],"nice":false,"zero":false},"axis":null},"color":{"field":"s","type":"nominal","scale":{"domain":["g","m","r"],"range":["#008000","#0000ff","#ff0000"]},"legend":null}}},
{"transform":[{"fold":["g","m","r"],"as":["s","v"]}],"mark":{"type":"point","shape":"M-1,0L1,0M0,-1L0,1M-0.7,-0.7L0.7,0.7M-0.7,0.7L0.7,-0.7","filled":false,"size":64,"strokeWidth":1,"opacity":1},
"encoding":{"y":{"field":"v","type":"quantitative","scale":{"domain":[0.372668,0.372917],"nice":false,"zero":false},"axis":null},"color":{"field":"s","type":"nominal","scale":{"domain":["g","m","r"],"range":["#008000","#0000ff","#ff0000"]},"legend":null}}}
],
"resolve":{"axis":{"x":"independent","y":"independent"}}
},
{
"width":309,"height":240,
"title":{"text":"(g)  Purity Evolution - delta","offset":18},
"data":{"name":"g"},
"encoding":{"x":{"field":"x","type":"quantitative","scale":{"domain":[0.5,10.5],"nice":false,"zero":false},"axis":null}},
"layer":[
{"mark":{"type":"rule","color":"black","strokeDash":[4,3],"strokeWidth":1},
"encoding":{"x":{"field":"x","type":"quantitative","scale":{"domain":[0.5,10.5],"nice":false,"zero":false},"axis":{"values":[2,4,6,8,10],"format":"d","title":"Sample Size x1000","titlePadding":0,"labelPadding":5,"labelFontSize":14,"titleFontSize":15}},
"y":{"field":"h","type":"quantitative","scale":{"domain":[49.895,50.356],"nice":false,"zero":false},"axis":{"values":[49.9,50,50.1,50.2,50.3],"format":"~g","title":"Purity","titlePadding":8,"labelFontSize":14,"titleFontSize":15}},
"y2":{"field":"wh"}}},
{"mark":{"type":"rule","color":"black","strokeDash":[4,3],"strokeWidth":1},
"encoding":{"x":{"field":"x","type":"quantitative","scale":{"domain":[0.5,10.5],"nice":false,"zero":false},"axis":{"orient":"top","values":[2,4,6,8,10],"labels":false,"title":"Purity Evolution","titleFontSize":14,"titlePadding":10,"minExtent":0,"maxExtent":0}},
"y":{"field":"wl","type":"quantitative","scale":{"domain":[49.895,50.356],"nice":false,"zero":false},"axis":{"orient":"right","values":[49.9,50,50.1,50.2,50.3],"labels":false,"title":null,"minExtent":0,"maxExtent":0}},
"y2":{"field":"l"}}},
{"mark":{"type":"tick","orient":"horizontal","size":8,"thickness":1,"color":"black","opacity":1},
"encoding":{"y":{"field":"wl","type":"quantitative","scale":{"domain":[49.895,50.356],"nice":false,"zero":false},"axis":null}}},
{"mark":{"type":"bar","size":16,"fill":"#0000ff","fillOpacity":0,"stroke":"#0000ff","strokeWidth":1.2,"strokeOpacity":0.85},
"encoding":{"y":{"field":"l","type":"quantitative","scale":{"domain":[49.895,50.356],"nice":false,"zero":false},"axis":null},"y2":{"field":"h"}}},
{"mark":{"type":"tick","orient":"horizontal","size":15,"thickness":1.3,"color":"#ff0000","opacity":1},
"encoding":{"y":{"field":"md","type":"quantitative","scale":{"domain":[49.895,50.356],"nice":false,"zero":false},"axis":null}}},
{"transform":[{"fold":["g","m","r"],"as":["s","v"]}],"mark":{"type":"line","strokeWidth":1},
"encoding":{"y":{"field":"v","type":"quantitative","scale":{"domain":[49.895,50.356],"nice":false,"zero":false},"axis":null},"color":{"field":"s","type":"nominal","scale":{"domain":["g","m","r"],"range":["#008000","#0000ff","#ff0000"]},"legend":null}}},
{"transform":[{"fold":["g","m","r"],"as":["s","v"]}],"mark":{"type":"point","shape":"M-1,0L1,0M0,-1L0,1M-0.7,-0.7L0.7,0.7M-0.7,0.7L0.7,-0.7","filled":false,"size":170,"strokeWidth":1.1,"opacity":1},
"encoding":{"y":{"field":"v","type":"quantitative","scale":{"domain":[49.895,50.356],"nice":false,"zero":false},"axis":null},"color":{"field":"s","type":"nominal","scale":{"domain":["g","m","r"],"range":["#008000","#0000ff","#ff0000"]},"legend":null}}}
],
"resolve":{"axis":{"x":"independent","y":"independent"}}
},
{
"width":309,"height":240,
"title":{"text":"(h)  NMI Evolution - delta","offset":18},
"data":{"name":"h"},
"encoding":{"x":{"field":"x","type":"quantitative","scale":{"domain":[0.5,10.5],"nice":false,"zero":false},"axis":null}},
"layer":[
{"mark":{"type":"rule","color":"black","strokeDash":[4,3],"strokeWidth":1},
"encoding":{"x":{"field":"x","type":"quantitative","scale":{"domain":[0.5,10.5],"nice":false,"zero":false},"axis":{"values":[2,4,6,8,10],"format":"d","title":"Sample Size x1000","titlePadding":0,"labelPadding":5,"labelFontSize":14,"titleFontSize":15}},
"y":{"field":"h","type":"quantitative","scale":{"domain":[-0.152,3.405],"nice":false,"zero":false},"axis":{"values":[0,0.5,1,1.5,2,2.5,3],"format":"~g","title":"NMI","titlePadding":6,"labelFontSize":14,"titleFontSize":15}},
"y2":{"field":"wh"}}},
{"mark":{"type":"rule","color":"black","strokeDash":[4,3],"strokeWidth":1},
"encoding":{"x":{"field":"x","type":"quantitative","scale":{"domain":[0.5,10.5],"nice":false,"zero":false},"axis":{"orient":"top","values":[2,4,6,8,10],"labels":false,"title":"NMI Evolution","titleFontSize":14,"titlePadding":10,"minExtent":0,"maxExtent":0}},
"y":{"field":"wl","type":"quantitative","scale":{"domain":[-0.152,3.405],"nice":false,"zero":false},"axis":{"orient":"right","values":[0,0.5,1,1.5,2,2.5,3],"labels":false,"title":null,"minExtent":0,"maxExtent":0}},
"y2":{"field":"l"}}},
{"mark":{"type":"bar","size":16,"fill":"#0000ff","fillOpacity":0,"stroke":"#0000ff","strokeWidth":1.2,"strokeOpacity":0.85},
"encoding":{"y":{"field":"l","type":"quantitative","scale":{"domain":[-0.152,3.405],"nice":false,"zero":false},"axis":null},"y2":{"field":"h"}}},
{"mark":{"type":"tick","orient":"horizontal","size":15,"thickness":1.3,"color":"#ff0000","opacity":1},
"encoding":{"y":{"field":"md","type":"quantitative","scale":{"domain":[-0.152,3.405],"nice":false,"zero":false},"axis":null}}},
{"transform":[{"fold":["g","m","r"],"as":["s","v"]}],"mark":{"type":"line","strokeWidth":1},
"encoding":{"y":{"field":"v","type":"quantitative","scale":{"domain":[-0.152,3.405],"nice":false,"zero":false},"axis":null},"color":{"field":"s","type":"nominal","scale":{"domain":["g","m","r"],"range":["#008000","#0000ff","#ff0000"]},"legend":null}}},
{"transform":[{"fold":["g","m","r"],"as":["s","v"]}],"mark":{"type":"point","shape":"M-1,0L1,0M0,-1L0,1M-0.7,-0.7L0.7,0.7M-0.7,0.7L0.7,-0.7","filled":false,"size":170,"strokeWidth":1.1,"opacity":1},
"encoding":{"y":{"field":"v","type":"quantitative","scale":{"domain":[-0.152,3.405],"nice":false,"zero":false},"axis":null},"color":{"field":"s","type":"nominal","scale":{"domain":["g","m","r"],"range":["#008000","#0000ff","#ff0000"]},"legend":null}}},
{"data":{"name":"hnote"},"mark":{"type":"text","align":"left","baseline":"bottom","dy":-3,"fontSize":14,"font":"Liberation Sans","color":"black"},
"encoding":{"x":{"field":"x","type":"quantitative","scale":{"domain":[0.5,10.5],"nice":false,"zero":false},"axis":null},"y":{"field":"y","type":"quantitative","scale":{"domain":[-0.152,3.405],"nice":false,"zero":false},"axis":null},"text":{"field":"t","type":"nominal"}}}
],
"resolve":{"axis":{"x":"independent","y":"independent"}}
}
]
}
